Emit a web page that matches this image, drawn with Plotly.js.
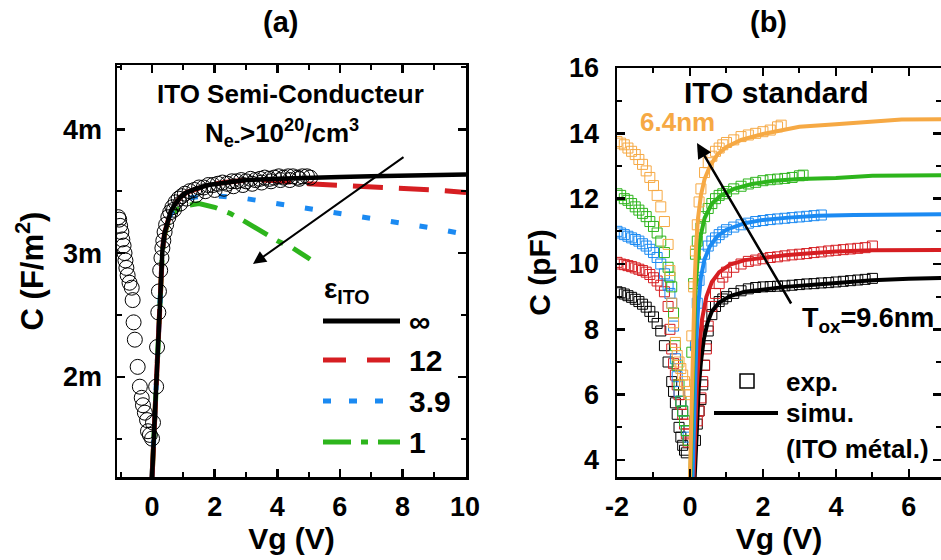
<!DOCTYPE html>
<html>
<head>
<meta charset="utf-8">
<script src="https://cdn.plot.ly/plotly-3.0.1.min.js"></script>
<style>html,body{margin:0;padding:0;background:#fff;}#chart{width:941px;height:560px;}</style>
</head>
<body>
<div id="chart"></div>
<script>
// ---------- Panel (a): ITO semi-conducteur, C in F/m^2 ----------
const expA_V = [-1.08,-1.05,-1.02,-0.98,-0.95,-0.91,-0.88,-0.85,-0.82,-0.78,-0.72,-0.65,-0.62,-0.59,-0.55,-0.46,-0.39,-0.33,-0.29,-0.23,-0.16,-0.13,-0.07,0.0,
  0.03,0.13,0.16,0.2,0.22,0.26,0.3,0.33,0.36,0.4,0.45,0.52,0.58,0.65,0.7,0.75,0.85,0.9,0.95,1.05,1.1,1.2,1.35,1.4,1.5,1.65,1.7,1.8,1.95,2.0,2.1,2.25,2.3,2.4,2.55,2.6,2.7,2.85,2.9,3.0,3.15,3.2,3.3,3.45,3.5,3.6,3.75,3.8,3.9,4.05,4.1,4.2,4.35,4.4,4.5,4.65,4.7,4.8,4.95,5.05];
const expA_C = [3.29e-3,3.27e-3,3.22e-3,3.17e-3,3.11e-3,3.06e-3,3.0e-3,2.94e-3,2.88e-3,2.82e-3,2.76e-3,2.72e-3,2.62e-3,2.44e-3,2.30e-3,2.08e-3,1.92e-3,1.83e-3,1.77e-3,1.71e-3,1.65e-3,1.56e-3,1.53e-3,1.50e-3,
  1.63e-3,1.92e-3,2.24e-3,2.52e-3,2.69e-3,2.86e-3,2.96e-3,3.04e-3,3.10e-3,3.17e-3,3.23e-3,3.29e-3,3.33e-3,3.37e-3,3.35e-3,3.41e-3,3.44e-3,3.40e-3,3.46e-3,3.48e-3,3.44e-3,3.50e-3,3.51e-3,3.47e-3,3.53e-3,3.53e-3,3.50e-3,3.55e-3,3.55e-3,3.51e-3,3.56e-3,3.57e-3,3.52e-3,3.56e-3,3.58e-3,3.54e-3,3.58e-3,3.59e-3,3.55e-3,3.58e-3,3.60e-3,3.56e-3,3.59e-3,3.60e-3,3.57e-3,3.61e-3,3.60e-3,3.58e-3,3.61e-3,3.62e-3,3.59e-3,3.61e-3,3.62e-3,3.59e-3,3.62e-3,3.61e-3,3.60e-3,3.62e-3,3.62e-3,3.61e-3];

const simInf_V = [0.0,0.06,0.12,0.18,0.24,0.28,0.33,0.4,0.5,0.6,0.75,0.9,1.1,1.4,1.8,2.3,3.0,4.0,5.0,6.0,7.0,8.0,9.0,10.03];
const simInf_C = [1.19e-3,1.55e-3,1.92e-3,2.30e-3,2.65e-3,2.85e-3,3.02e-3,3.16e-3,3.27e-3,3.34e-3,3.40e-3,3.45e-3,3.49e-3,3.52e-3,3.55e-3,3.57e-3,3.59e-3,3.60e-3,3.61e-3,3.615e-3,3.62e-3,3.625e-3,3.63e-3,3.635e-3];
const sim12_V = [0.0,0.06,0.12,0.18,0.24,0.28,0.33,0.4,0.5,0.6,0.75,0.9,1.1,1.4,1.8,2.3,3.0,3.5,4.0,5.0,6.0,7.0,8.0,9.0,10.03];
const sim12_C = [1.19e-3,1.55e-3,1.92e-3,2.30e-3,2.65e-3,2.85e-3,3.02e-3,3.16e-3,3.27e-3,3.34e-3,3.40e-3,3.45e-3,3.49e-3,3.52e-3,3.55e-3,3.57e-3,3.59e-3,3.59e-3,3.585e-3,3.56e-3,3.55e-3,3.54e-3,3.53e-3,3.51e-3,3.49e-3];
const sim39_V = [0.0,0.06,0.12,0.18,0.24,0.28,0.33,0.4,0.5,0.65,0.8,1.0,1.3,1.7,2.2,3.0,4.0,5.0,6.0,7.0,8.0,9.0,10.03];
const sim39_C = [1.19e-3,1.55e-3,1.92e-3,2.30e-3,2.65e-3,2.85e-3,3.02e-3,3.15e-3,3.26e-3,3.34e-3,3.39e-3,3.42e-3,3.45e-3,3.46e-3,3.46e-3,3.44e-3,3.40e-3,3.37e-3,3.32e-3,3.28e-3,3.24e-3,3.20e-3,3.15e-3];
const sim1_V = [0.0,0.06,0.12,0.18,0.24,0.28,0.33,0.4,0.5,0.65,0.8,1.0,1.5,2.0,2.5,3.0,3.5,4.0,4.5,5.05];
const sim1_C = [1.19e-3,1.55e-3,1.92e-3,2.30e-3,2.65e-3,2.85e-3,3.01e-3,3.14e-3,3.24e-3,3.31e-3,3.35e-3,3.38e-3,3.40e-3,3.37e-3,3.32e-3,3.25e-3,3.17e-3,3.10e-3,3.04e-3,2.95e-3];
const epsLabels = ['\u221E', '12', '3.9', '1'];

// ---------- Panel (b): ITO standard, C in pF ----------
const expK_V = [-2.0,-1.9,-1.8,-1.7,-1.6,-1.5,-1.4,-1.3,-1.2,-1.1,-1.0,-0.9,-0.8,-0.7,-0.6,-0.5,-0.45,-0.4,-0.35,-0.3,-0.25,-0.2,-0.15,-0.1,0.15,0.2,0.25,0.3,0.35,0.4,0.45,0.5,0.6,0.7,0.8,0.9,1.0,1.2,1.4,1.6,1.8,2.0,2.2,2.4,2.6,2.8,3.0,3.2,3.4,3.6,3.8,4.0,4.2,4.4,4.6,4.8,5.0];
const expK_C = [9.15,9.12,9.08,9.03,8.98,8.92,8.85,8.77,8.68,8.55,8.38,8.18,7.95,7.5,7.0,6.4,6.1,5.75,5.4,5.0,4.7,4.45,4.3,4.22,4.6,5.1,5.5,5.85,6.3,6.9,7.5,7.95,8.45,8.7,8.85,8.93,9.0,9.1,9.18,9.24,9.28,9.3,9.31,9.32,9.33,9.35,9.37,9.39,9.4,9.42,9.43,9.45,9.47,9.49,9.51,9.53,9.56];
const expR_V = [-2.0,-1.9,-1.8,-1.7,-1.6,-1.5,-1.4,-1.3,-1.2,-1.1,-1.0,-0.9,-0.8,-0.7,-0.6,-0.55,-0.5,-0.45,-0.4,-0.35,-0.3,-0.25,-0.2,-0.15,-0.1,-0.05,0.2,0.25,0.3,0.35,0.4,0.45,0.5,0.6,0.7,0.8,0.9,1.0,1.2,1.4,1.6,1.8,2.0,2.2,2.4,2.6,2.8,3.0,3.2,3.4,3.6,3.8,4.0,4.2,4.4,4.6,4.8,5.0];
const expR_C = [10.05,10.0,9.98,9.95,9.92,9.88,9.84,9.8,9.75,9.68,9.58,9.48,9.35,9.15,8.7,8.0,7.4,6.95,6.6,6.3,6.0,5.7,5.4,5.1,4.8,4.55,5.2,5.5,5.9,6.4,6.9,7.4,8.1,8.7,9.1,9.4,9.6,9.75,9.9,10.0,10.08,10.12,10.16,10.2,10.22,10.25,10.28,10.3,10.32,10.35,10.37,10.4,10.42,10.44,10.46,10.48,10.5,10.55];
const expB_V = [-2.0,-1.9,-1.8,-1.7,-1.6,-1.5,-1.4,-1.3,-1.2,-1.1,-1.0,-0.9,-0.8,-0.7,-0.6,-0.55,-0.5,-0.45,-0.4,-0.35,-0.3,-0.25,-0.2,-0.15,-0.1,-0.05,0.15,0.2,0.25,0.3,0.4,0.5,0.6,0.7,0.8,0.9,1.0,1.2,1.4,1.6,1.8,2.0,2.2,2.4,2.6,2.8,3.0,3.2,3.4,3.6];
const expB_C = [11.0,10.95,10.9,10.85,10.8,10.75,10.7,10.62,10.55,10.45,10.35,10.2,10.0,9.7,9.35,9.1,8.8,8.1,7.1,6.55,6.1,5.8,5.5,5.2,4.9,4.7,7.5,8.8,9.5,9.9,10.3,10.55,10.7,10.8,10.9,10.98,11.05,11.13,11.2,11.25,11.3,11.33,11.36,11.38,11.4,11.42,11.44,11.46,11.48,11.5];
const expG_V = [-2.0,-1.9,-1.8,-1.7,-1.6,-1.5,-1.4,-1.3,-1.2,-1.1,-1.0,-0.9,-0.8,-0.7,-0.6,-0.55,-0.5,-0.45,-0.4,-0.35,-0.3,-0.25,-0.2,-0.15,-0.1,-0.05,0.05,0.1,0.15,0.2,0.3,0.4,0.5,0.6,0.7,0.8,0.9,1.0,1.2,1.4,1.6,1.8,2.0,2.2,2.4,2.6,2.8,3.0,3.1];
const expG_C = [12.15,12.1,12.0,11.95,11.85,11.75,11.65,11.55,11.45,11.3,11.15,10.95,10.7,10.35,9.9,9.6,9.3,8.5,7.5,6.9,6.3,5.8,5.5,5.2,4.9,4.6,7.3,9.4,10.3,10.7,11.1,11.45,11.7,11.85,12.0,12.1,12.15,12.22,12.3,12.38,12.45,12.5,12.55,12.58,12.6,12.62,12.65,12.7,12.72];
const expO_V = [-2.0,-1.9,-1.8,-1.7,-1.6,-1.5,-1.4,-1.3,-1.2,-1.1,-1.0,-0.9,-0.8,-0.7,-0.6,-0.55,-0.5,-0.45,-0.4,-0.35,-0.3,-0.25,-0.2,-0.15,-0.1,-0.05,0.0,0.05,0.1,0.15,0.2,0.25,0.3,0.4,0.5,0.6,0.7,0.8,0.9,1.0,1.2,1.4,1.6,1.8,2.0,2.2,2.4,2.5];
const expO_C = [13.75,13.7,13.65,13.55,13.45,13.35,13.2,13.05,12.85,12.65,12.4,12.1,11.75,11.3,10.6,9.8,8.8,8.2,7.6,7.2,7.0,6.8,6.6,6.4,6.3,6.1,6.0,7.8,9.3,10.4,11.2,11.9,12.3,12.8,13.1,13.3,13.45,13.55,13.65,13.72,13.8,13.9,13.95,14.0,14.05,14.1,14.2,14.25];

const simK_V = [0.13,0.18,0.24,0.3,0.38,0.48,0.6,0.8,1.1,1.5,2.0,2.6,3.3,4.0,5.0,6.0,6.9];
const simK_C = [3.48,5.0,6.2,7.0,7.7,8.2,8.55,8.82,9.02,9.15,9.23,9.3,9.36,9.42,9.5,9.55,9.57];
const simR_V = [0.1,0.14,0.19,0.25,0.33,0.45,0.6,0.8,1.1,1.5,2.0,2.6,3.3,4.0,5.0,6.0,6.9];
const simR_C = [3.48,5.0,6.3,7.4,8.3,9.0,9.45,9.75,9.98,10.12,10.2,10.27,10.33,10.38,10.42,10.43,10.43];
const simB_V = [0.07,0.1,0.14,0.18,0.23,0.3,0.4,0.55,0.75,1.0,1.5,2.0,2.7,3.5,4.5,5.5,6.9];
const simB_C = [3.48,5.0,6.5,7.8,8.8,9.6,10.15,10.55,10.85,11.05,11.25,11.35,11.42,11.48,11.5,11.52,11.52];
const simG_V = [0.01,0.04,0.07,0.1,0.14,0.2,0.28,0.4,0.6,0.85,1.2,1.7,2.3,3.0,4.0,5.0,6.0,6.9];
const simG_C = [3.48,5.0,6.5,7.8,9.0,10.0,10.8,11.4,11.85,12.1,12.3,12.45,12.55,12.6,12.63,12.7,12.72,12.72];
const simO_V = [0.0,0.03,0.06,0.09,0.13,0.17,0.22,0.3,0.4,0.55,0.75,1.0,1.4,2.0,2.5,3.0,4.0,5.0,5.8,6.9];
const simO_C = [3.48,5.0,6.5,8.0,9.5,10.6,11.4,12.1,12.6,13.0,13.35,13.58,13.8,13.98,14.1,14.2,14.28,14.35,14.42,14.43];

const tickA_x = [0, 2, 4, 6, 8, 10];
const tickB_x = [-2, 0, 2, 4, 6];
const tickB_xText = ['-2', '0', '2', '4', '6'];

// ---------- styling ----------
const FONT = 'Liberation Sans, Arial, Helvetica, sans-serif';
const C_BLACK = '#000000', C_RED = '#D61E22', C_BLUE = '#1B8AF2', C_GREEN = '#2DB51C', C_ORANGE = '#F6A944';
const W = 941, H = 560;
const px = v => v / W;
const py = v => 1 - v / H;

const traces = [];
// panel (a)
traces.push({x: sim1_V, y: sim1_C, xaxis: 'x', yaxis: 'y', mode: 'lines', line: {color: C_GREEN, width: 5, dash: '28px,11px,7px,11px'}, showlegend: false, hoverinfo: 'skip'});
traces.push({x: sim39_V, y: sim39_C, xaxis: 'x', yaxis: 'y', mode: 'lines', line: {color: C_BLUE, width: 5, dash: '8px,21px'}, showlegend: false, hoverinfo: 'skip'});
traces.push({x: sim12_V, y: sim12_C, xaxis: 'x', yaxis: 'y', mode: 'lines', line: {color: C_RED, width: 5, dash: '30px,16px'}, showlegend: false, hoverinfo: 'skip'});
traces.push({x: simInf_V, y: simInf_C, xaxis: 'x', yaxis: 'y', mode: 'lines', line: {color: C_BLACK, width: 4.5}, showlegend: false, hoverinfo: 'skip'});
traces.push({x: expA_V, y: expA_C, xaxis: 'x', yaxis: 'y', mode: 'markers', marker: {symbol: 'circle-open', size: 15, color: C_BLACK, line: {width: 1, color: C_BLACK}}, showlegend: false, hoverinfo: 'skip'});

// panel (b)
const exps = [[expK_V, expK_C, C_BLACK], [expR_V, expR_C, C_RED], [expB_V, expB_C, C_BLUE], [expG_V, expG_C, C_GREEN], [expO_V, expO_C, C_ORANGE]];
exps.forEach(([v, c, col]) => traces.push({x: v, y: c, xaxis: 'x2', yaxis: 'y2', mode: 'markers',
  marker: {symbol: 'square-open', size: 10, color: col, line: {width: 1, color: col}}, showlegend: false, hoverinfo: 'skip'}));
const sims = [[simK_V, simK_C, C_BLACK], [simR_V, simR_C, C_RED], [simB_V, simB_C, C_BLUE], [simG_V, simG_C, C_GREEN], [simO_V, simO_C, C_ORANGE]];
sims.forEach(([v, c, col]) => traces.push({x: v, y: c, xaxis: 'x2', yaxis: 'y2', mode: 'lines',
  line: {color: col, width: 4}, showlegend: false, hoverinfo: 'skip'}));

function axisBase(extra) {
  return Object.assign({
    showline: true, linewidth: 2.5, linecolor: '#000', mirror: 'ticks',
    ticks: 'inside', ticklen: 8, tickwidth: 2.5, tickcolor: '#000',
    showgrid: false, zeroline: false, automargin: false,
  }, extra);
}
const tf = s => ({family: FONT, size: s, color: '#000', weight: 'bold'});

const layout = {
  width: W, height: H,
  margin: {l: 0, r: 0, t: 0, b: 0},
  paper_bgcolor: '#fff', plot_bgcolor: 'rgba(0,0,0,0)',
  font: {family: FONT, color: '#000'},
  showlegend: false,
  xaxis: axisBase({domain: [px(117), px(466)], anchor: 'y', range: [-1.12, 10.03], tickmode: 'array', tickvals: tickA_x,
    minor: {dtick: 1, tick0: 0, ticks: 'inside', ticklen: 5, tickwidth: 2, tickcolor: '#000'},
    tickfont: tf(27), ticklabelstandoff: 4,
    title: {text: 'Vg (V)', font: tf(30), standoff: 6}}),
  yaxis: axisBase({domain: [py(477), py(65)], anchor: 'x', range: [1.19e-3, 4.52e-3], dtick: 1e-3, tick0: 0, tickformat: '~s',
    minor: {dtick: 0.5e-3, ticks: 'inside', ticklen: 5, tickwidth: 2, tickcolor: '#000'},
    tickfont: tf(27), ticklabelstandoff: 7,
    title: {text: 'C (F/m<sup>2</sup>)', font: tf(31), standoff: 10}}),
  xaxis2: axisBase({domain: [px(617), 1], anchor: 'y2', range: [-2, 6.88], tickmode: 'array', tickvals: tickB_x, ticktext: tickB_xText,
    minor: {dtick: 1, tick0: 0, ticks: 'inside', ticklen: 5, tickwidth: 2, tickcolor: '#000'},
    tickfont: tf(27), ticklabelstandoff: 4,
    title: {text: 'Vg (V)', font: tf(30), standoff: 6}}),
  yaxis2: axisBase({domain: [py(477), py(68)], anchor: 'x2', range: [3.48, 16], dtick: 2, tick0: 0,
    minor: {dtick: 1, ticks: 'inside', ticklen: 5, tickwidth: 2, tickcolor: '#000'},
    tickfont: tf(27), ticklabelstandoff: 10,
    title: {text: 'C (pF)', font: tf(30), standoff: 10}}),
  annotations: [],
  shapes: []
};

const ann = (x, y, text, size, opts) => Object.assign({xref: 'paper', yref: 'paper', x: px(x), y: py(y), text: text,
  showarrow: false, font: tf(size), xanchor: 'center', yanchor: 'middle'}, opts || {});
layout.annotations.push(ann(280, 22, '(a)', 29));
layout.annotations.push(ann(768, 22, '(b)', 29));
layout.annotations.push(ann(290, 94, 'ITO Semi-Conducteur', 26));
layout.annotations.push(ann(282, 133, 'N<sub>e-</sub>&gt;10<sup>20</sup>/cm<sup>3</sup>', 26));
layout.annotations.push(ann(347, 290, '\u03B5<sub>ITO</sub>', 28));
const legY = [321, 360, 401, 442];
epsLabels.forEach((t, i) => layout.annotations.push(ann(407, legY[i], t, 30, {xanchor: 'left'})));
layout.annotations.push(ann(776, 93, 'ITO standard', 30));
layout.annotations.push(ann(677, 122, '6.4nm', 26, {font: Object.assign(tf(26), {color: C_ORANGE})}));
layout.annotations.push(ann(800, 320, 'T<sub>ox</sub>=9.6nm', 27, {xanchor: 'left'}));
layout.annotations.push(ann(784, 382, 'exp.', 26, {xanchor: 'left'}));
layout.annotations.push(ann(784, 413, 'simu.', 26, {xanchor: 'left'}));
layout.annotations.push(ann(784, 449, '(ITO m\u00E9tal.)', 26, {xanchor: 'left'}));
// arrows
layout.annotations.push({xref: 'paper', yref: 'paper', x: px(253), y: py(264), ax: 152, ay: -108, text: '',
  showarrow: true, arrowhead: 2, arrowsize: 1.3, arrowwidth: 2, arrowcolor: '#000'});
layout.annotations.push({xref: 'paper', yref: 'paper', x: px(697), y: py(143), ax: 95, ay: 162, text: '',
  showarrow: true, arrowhead: 2, arrowsize: 1.2, arrowwidth: 2.5, arrowcolor: '#000'});

// legend samples panel (a)
const legDash = ['solid', '23px,21px', '8px,18px', '28px,10px,7px,10px'];
const legCol = [C_BLACK, C_RED, C_BLUE, C_GREEN];
legY.forEach((y, i) => layout.shapes.push({type: 'line', xref: 'paper', yref: 'paper', x0: px(323), x1: px(400), y0: py(y), y1: py(y),
  line: {color: legCol[i], width: 5, dash: legDash[i]}}));
// legend samples panel (b)
layout.shapes.push({type: 'rect', xref: 'paper', yref: 'paper', x0: px(740), x1: px(754), y0: py(388), y1: py(374),
  line: {color: '#000', width: 1.5}, fillcolor: 'rgba(0,0,0,0)'});
layout.shapes.push({type: 'line', xref: 'paper', yref: 'paper', x0: px(714), x1: px(778), y0: py(413), y1: py(413),
  line: {color: '#000', width: 4}});

Plotly.newPlot('chart', traces, layout, {displayModeBar: false, staticPlot: true});
</script>
</body>
</html>
